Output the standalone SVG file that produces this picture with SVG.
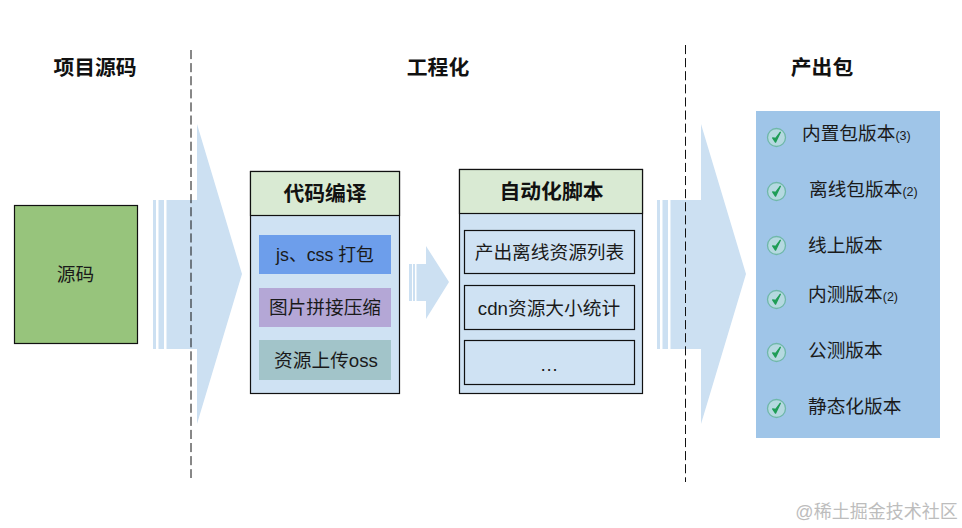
<svg xmlns="http://www.w3.org/2000/svg" width="962" height="528" viewBox="0 0 962 528">
<defs>
<style>
text{font-family:"Liberation Sans","Noto Sans CJK SC",sans-serif;fill:#1a1a1a;text-anchor:middle}
.h{font-size:20.800px;font-weight:700;fill:#111}
.t{font-size:18.700px}
.v{font-size:18.700px;text-anchor:start}
.s{font-size:12.500px}
.b{stroke:#111;stroke-width:1.2}
.arrow{fill:#cce0f2}
.div{stroke:#111;stroke-width:1;stroke-dasharray:9.100 4;fill:none}
</style>
<g id="check">
<circle r="9" fill="#b5d9e0" stroke="#6fb8a8" stroke-width="1.3"/>
<path d="M-3.8 0.4L-1 4.6L3.8 -5.2L-0.8 1Z" fill="#1f9d57" stroke="#1f9d57" stroke-width="1.4" stroke-linejoin="round"/>
</g>
</defs>
<rect width="962" height="528" fill="#fff"/>
<g id="connectors">
<path class="arrow" d="M153 200h3v149h-3zM158.500 200h5.500v149h-5.500zM166.500 200H197V124L242 274L197 424V349H166.500z"/>
<path class="arrow" d="M409 264h3v37h-3zM413 264h2v37h-2zM416.500 264H426V246L449 282L426 319V301H416.500z"/>
<path class="arrow" d="M657 200h3v149h-3zM662.500 200h5.500v149h-5.500zM670.500 200H701V124L746 274L701 424V349H670.500z"/>
<line class="div" x1="191" y1="50" x2="191" y2="478"/>
<line class="div" x1="685.500" y1="45" x2="685.500" y2="482"/>
</g>
<g id="header-source"><text class="h" x="95" y="75">项目源码</text></g>
<g id="header-eng"><text class="h" x="438" y="75">工程化</text></g>
<g id="header-output"><text class="h" x="822" y="75">产出包</text></g>
<g id="node-source">
<rect class="b" x="14.500" y="205.500" width="123" height="138" fill="#97c47c"/>
<text class="t" x="75.500" y="281">源码</text>
</g>
<g id="node-compile">
<rect class="b" x="250.500" y="171.500" width="149" height="222" fill="#cfe2f3"/>
<rect class="b" x="250.500" y="171.500" width="149" height="44" fill="#d9ead3"/>
<text class="h" x="325" y="201">代码编译</text>
</g>
<g id="item-bundle">
<rect x="259" y="235" width="132" height="39" fill="#6d9eeb"/>
<text x="325" y="261" style="font-size:17.800px">js、css 打包</text>
</g>
<g id="item-sprite">
<rect x="259" y="288" width="132" height="39" fill="#b4a7d6"/>
<text class="t" x="325" y="314">图片拼接压缩</text>
</g>
<g id="item-upload">
<rect x="259" y="340" width="132" height="40" fill="#a2c4c9"/>
<text class="t" x="326" y="367">资源上传oss</text>
</g>
<g id="node-script">
<rect class="b" x="459.500" y="169.500" width="183" height="224" fill="#cfe2f3"/>
<rect class="b" x="459.500" y="169.500" width="183" height="44" fill="#d9ead3"/>
<text class="h" x="551.500" y="199">自动化脚本</text>
</g>
<g id="item-list">
<rect class="b" x="464.500" y="230.500" width="170" height="43" fill="none"/>
<text class="t" x="549.500" y="259">产出离线资源列表</text>
</g>
<g id="item-cdn">
<rect class="b" x="464.500" y="285.500" width="170" height="44" fill="none"/>
<text class="t" x="549" y="315">cdn资源大小统计</text>
</g>
<g id="item-more">
<rect class="b" x="464.500" y="340.500" width="170" height="44" fill="none"/>
<text class="t" x="549" y="371">…</text>
</g>
<g id="node-output">
<rect x="756" y="111" width="184" height="327" fill="#9fc5e8"/>
</g>
<g id="v1"><use href="#check" x="776.500" y="137.500"/><text class="v" x="802" y="140">内置包版本<tspan class="s">(3)</tspan></text></g>
<g id="v2"><use href="#check" x="776.500" y="191.500"/><text class="v" x="809" y="196">离线包版本<tspan class="s">(2)</tspan></text></g>
<g id="v3"><use href="#check" x="776.500" y="245.500"/><text class="v" x="808" y="252">线上版本</text></g>
<g id="v4"><use href="#check" x="776.500" y="299.500"/><text class="v" x="808" y="301">内测版本<tspan class="s">(2)</tspan></text></g>
<g id="v5"><use href="#check" x="776.500" y="352.500"/><text class="v" x="808" y="357">公测版本</text></g>
<g id="v6"><use href="#check" x="776.500" y="408.500"/><text class="v" x="808" y="413">静态化版本</text></g>
<text x="876.500" y="518" style="font-size:18px;fill:#bdbdbd">@稀土掘金技术社区</text>
</svg>
